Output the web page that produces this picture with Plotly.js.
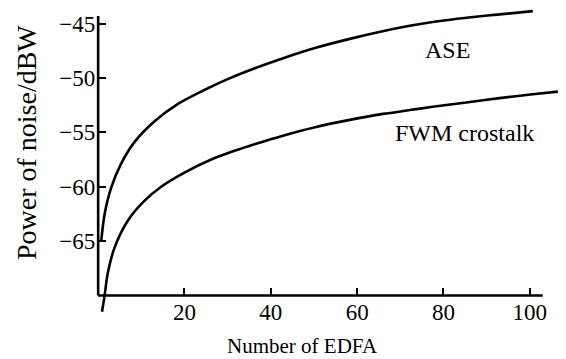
<!DOCTYPE html>
<html>
<head>
<meta charset="utf-8">
<script src="https://cdn.plot.ly/plotly-3.0.1.min.js"></script>
<style>html,body{margin:0;padding:0;background:#fff;}#chart{width:566px;height:359px;}</style>
</head>
<body>
<div id="chart"></div>
<script>
// Number of EDFA (x) and noise power in dBW (y)
var aseX = [0.7, 1.5, 3, 5.3, 8.4, 13, 18.4, 24.6, 30, 36.3, 42.7, 50.6, 58.3, 65.9, 72.2, 77.5, 85.4, 93, 100.7];
var aseY = [-65, -62.5, -60.1, -57.9, -55.9, -54.0, -52.4, -51.1, -50.1, -49.1, -48.2, -47.2, -46.4, -45.7, -45.2, -44.85, -44.45, -44.15, -43.85];
var fwmX = [0.9, 1.5, 2.2, 3.8, 6.9, 10.7, 14.6, 20, 26.2, 31.6, 36.2, 42.8, 50.5, 58.3, 66, 72.2, 77.5, 85.3, 93, 100.7, 106.5];
var fwmY = [-71.5, -70, -68, -65.6, -63.1, -61.3, -60.0, -58.7, -57.5, -56.7, -56.1, -55.3, -54.5, -53.85, -53.3, -52.95, -52.65, -52.25, -51.85, -51.5, -51.25];
var xTicks = [20, 40, 60, 80, 100];
var yTicks = [-65, -60, -55, -50, -45];
var seriesNames = ['ASE', 'FWM crostalk'];
var xTitle = 'Number of EDFA';
var yTitle = 'Power of noise/dBW';

var SERIF = 'Liberation Serif, Times New Roman, serif';
function lineStyle() { return {color: '#000', width: 2.6, shape: 'spline', smoothing: 0.8}; }
var traces = [
  {x: aseX, y: aseY, mode: 'lines', name: seriesNames[0], line: lineStyle(), hoverinfo: 'skip'},
  {x: fwmX, y: fwmY, mode: 'lines', name: seriesNames[1], line: lineStyle(), hoverinfo: 'skip'}
];

var layout = {
  width: 566, height: 359,
  margin: {l: 96, r: 6, t: 3, b: 44},
  paper_bgcolor: '#fff', plot_bgcolor: '#fff',
  showlegend: false,
  font: {family: SERIF, color: '#000'},
  xaxis: {
    range: [-0.5, 107], anchor: 'free', position: 1.8 / 28.7,
    tickvals: xTicks, ticks: 'inside', ticklen: 7, tickwidth: 2, tickcolor: '#000',
    showline: false, showgrid: false, zeroline: false,
    tickfont: {family: SERIF, size: 23, color: '#000'}, ticklabelstandoff: 1
  },
  yaxis: {
    range: [-71.8, -43.1], anchor: 'free', position: 0.5 / 107.5,
    tickvals: yTicks, ticks: 'inside', ticklen: 7, tickwidth: 2, tickcolor: '#000',
    showline: false, showgrid: false, zeroline: false,
    tickfont: {family: SERIF, size: 23, color: '#000'}, ticklabelstandoff: 3
  },
  shapes: [
    {type: 'line', xref: 'x', yref: 'y', x0: 0, x1: 103, y0: -70, y1: -70, line: {color: '#000', width: 2.6}},
    {type: 'line', xref: 'x', yref: 'y', x0: 0, x1: 0, y0: -70, y1: -44.3, line: {color: '#000', width: 2.6}}
  ],
  annotations: [
    {text: yTitle, xref: 'paper', yref: 'paper', x: 0, xshift: -70, y: 0.551, textangle: -90,
     xanchor: 'center', yanchor: 'middle', showarrow: false,
     font: {family: SERIF, size: 28, color: '#000'}},
    {text: xTitle, xref: 'paper', yref: 'paper', x: 0.446, y: -0.1,
     xanchor: 'center', yanchor: 'middle', showarrow: false,
     font: {family: SERIF, size: 21, color: '#000'}},
    {text: seriesNames[0], xref: 'x', yref: 'y', x: 81.0, y: -47.4,
     xanchor: 'center', yanchor: 'middle', showarrow: false,
     font: {family: SERIF, size: 24, color: '#000'}},
    {text: seriesNames[1], xref: 'x', yref: 'y', x: 84.8, y: -55.06,
     xanchor: 'center', yanchor: 'middle', showarrow: false,
     font: {family: SERIF, size: 24, color: '#000'}}
  ]
};
Plotly.newPlot('chart', traces, layout, {staticPlot: true, displayModeBar: false});
</script>
</body>
</html>
